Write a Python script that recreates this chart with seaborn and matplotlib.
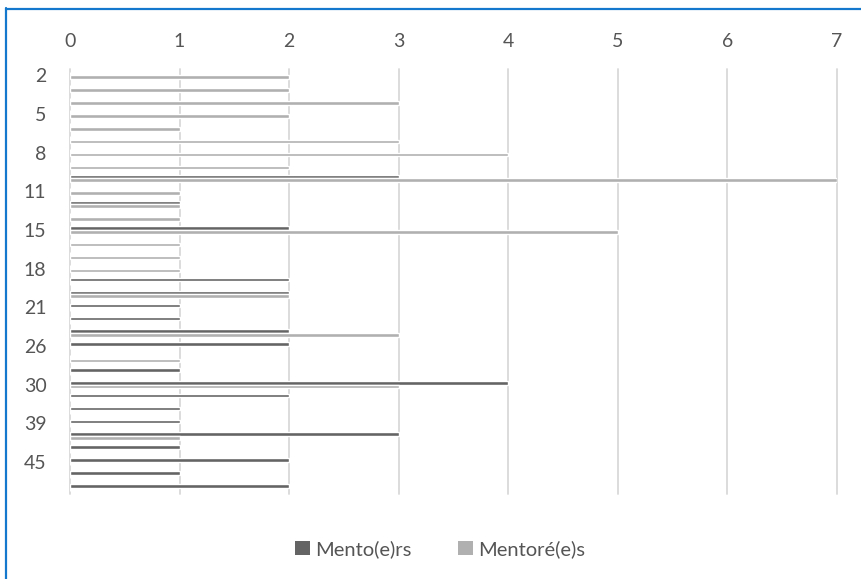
import matplotlib
matplotlib.use("Agg")
import matplotlib.pyplot as plt
import seaborn as sns
import pandas as pd
from matplotlib.lines import Line2D
from matplotlib.patches import Patch

categories = ["2", "3", "4", "5", "6", "7", "8", "9", "10", "11", "12", "13",
              "15", "16", "17", "18", "19", "20", "21", "22", "24", "26", "27", "28",
              "30", "32", "35", "39", "40", "42", "45", "48", "50"]
mentors = [0, 0, 0, 0, 0, 0, 0, 0, 3, 0, 1, 0,
           2, 0, 0, 0, 2, 2, 1, 1, 2, 2, 0, 1,
           4, 2, 1, 1, 3, 1, 2, 1, 2]
mentores = [2, 2, 3, 2, 1, 3, 4, 2, 7, 1, 1, 1,
            5, 1, 1, 1, 0, 2, 0, 0, 3, 0, 1, 0,
            3, 0, 0, 0, 1, 0, 0, 0, 0]
series_names = ["Mento(e)rs", "Mentoré(e)s"]
shown_labels = ["2", "5", "8", "11", "15", "18", "21", "26", "30", "39", "45"]
x_ticks = [0, 1, 2, 3, 4, 5, 6, 7]

dark = "#646464"
light = "#b0b0b0"
text_col = "#555555"

df = pd.DataFrame({
    "cat": categories * 2,
    "val": mentors + mentores,
    "series": [series_names[0]] * len(categories) + [series_names[1]] * len(categories),
})

sns.set_theme(style="white")
plt.rcParams["font.family"] = ["Lato", "DejaVu Sans"]

fig = plt.figure(figsize=(8.62, 5.79), dpi=100)
ax = fig.add_axes([70 / 862, 1 - 494 / 579, (837 - 70) / 862, (494 - 69) / 579])

sns.barplot(data=df, x="val", y="cat", hue="series", order=categories,
            hue_order=series_names, palette=[dark, light], orient="h",
            width=0.56, dodge=True, ax=ax, legend=False, errorbar=None,
            saturation=1)

ax.set_xlim(0, 7)
ax.set_ylim(len(categories) - 0.5, -0.5)
ax.xaxis.tick_top()
ax.set_xticks(x_ticks)
ax.set_xticklabels([str(t) for t in x_ticks])
ax.set_yticks(range(len(categories)))
ax.set_yticklabels([c if c in shown_labels else "" for c in categories])
ax.tick_params(axis="x", length=0, pad=14, labelsize=14, colors=text_col)
ax.tick_params(axis="y", length=0, pad=17, labelsize=14, colors=text_col)
ax.set_xlabel("")
ax.set_ylabel("")
for s in ax.spines.values():
    s.set_visible(False)
ax.grid(False)
for t in x_ticks:
    ax.axvline(t, color="#d9d9d9", lw=1.3, zorder=0, clip_on=False)

handles = [Patch(facecolor=dark, edgecolor="none"), Patch(facecolor=light, edgecolor="none")]
fig.legend(handles, series_names, loc="center", bbox_to_anchor=(440 / 862, 1 - 549 / 579),
           ncol=2, frameon=False, fontsize=14.5, labelcolor=text_col,
           handlelength=0.75, handleheight=0.75, handletextpad=0.25, columnspacing=2.3)

blue = "#1478cc"
fig.add_artist(Line2D([6.5 / 862, 6.5 / 862], [0, 1 - 8 / 579], color=blue, lw=1.6,
                      transform=fig.transFigure))
fig.add_artist(Line2D([6 / 862, 1], [1 - 8.5 / 579, 1 - 8.5 / 579], color=blue, lw=1.6,
                      transform=fig.transFigure))

fig.savefig("out.png", dpi=100)
